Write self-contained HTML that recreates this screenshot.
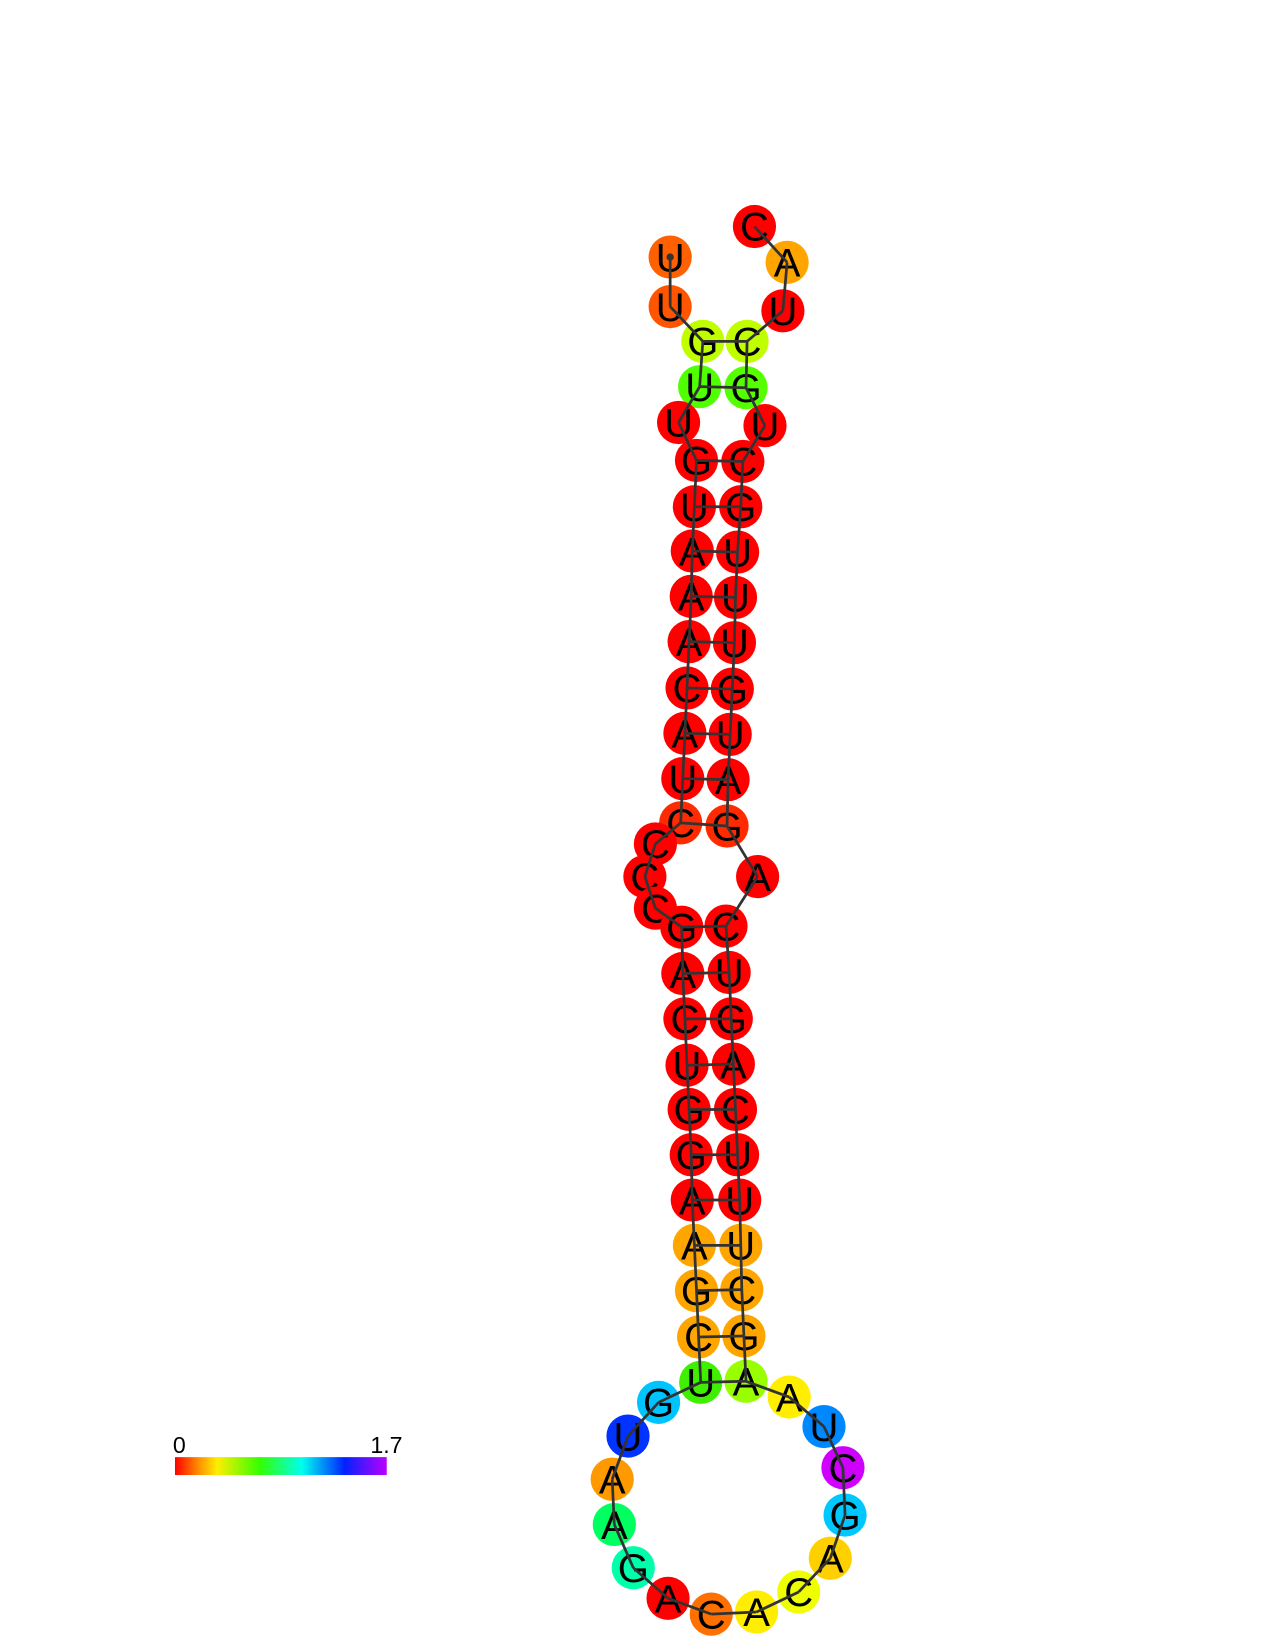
<!DOCTYPE html>
<html><head><meta charset="utf-8"><style>
html,body{margin:0;padding:0;background:#fff;}
svg{display:block;}
text{font-family:"Liberation Sans",Arial,sans-serif;}
</style></head><body>
<svg id="plot" width="1275" height="1651" viewBox="0 0 1210 1567" xmlns="http://www.w3.org/2000/svg">
<defs>
<linearGradient id="cb" x1="0" x2="1" y1="0" y2="0">
<stop offset="0" stop-color="#ff0000"/><stop offset="0.12" stop-color="#ff9900"/><stop offset="0.2" stop-color="#ffee00"/><stop offset="0.4" stop-color="#33ff00"/><stop offset="0.6" stop-color="#00ffee"/><stop offset="0.8" stop-color="#0022ff"/><stop offset="1" stop-color="#bb00ff"/>
</linearGradient>
</defs>
<g>
<rect x="166" y="1383" width="201" height="17" fill="url(#cb)"/>
<text x="164" y="1379" font-size="22">0</text>
<text x="382" y="1379" font-size="22" text-anchor="end">1.7</text>
</g>
<g id="links"></g>
<g id="nodes"></g>
</svg>
<script>
const seq = "UUGUUGUAAACAUCCCCGACUGGAAGCUGUAAGACACAGCUAAGCUUUCAGUCAGAUGUUUGCUGCUAC".split("");
const nx = [636,636,667,664,644,661,659,657,656,654,652,650,648,646,622,612,622,647,648,650,652,654,656,657,659,661,663,665,625,596,581,583,601,634,675,718,758,788,802,800,782,749,708,706,704,703,702,700,698,696,694,692,689,719,690,691,693,695,697,698,700,703,705,726,708,709,743,747,716];
const ny = [244,291,324,367,401,437,481,523,566,609,653,696,739,781,801,832,862,880,924,967,1011,1053,1096,1139,1182,1225,1269,1312,1331,1363,1404,1447,1488,1517,1532,1530,1511,1479,1438,1393,1354,1326,1311,1268,1224,1182,1139,1096,1053,1010,967,923,879,832,784,740,697,654,610,567,524,481,438,404,368,324,295,249,215];
const pairs = [[2,65],[3,64],[5,62],[6,61],[7,60],[8,59],[9,58],[10,57],[11,56],[12,55],[13,54],[17,52],[18,51],[19,50],[20,49],[21,48],[22,47],[23,46],[24,45],[25,44],[26,43],[27,42]];
const explicitColors = {0:"#ff6000",1:"#ff5500",2:"#c0ff00",3:"#50ff00",13:"#ff2a00",54:"#ff2a00",24:"#ffa500",25:"#ffa500",26:"#ffa500",43:"#ffa500",44:"#ffa500",45:"#ffa500",27:"#40ee00",28:"#00c4ff",29:"#0033ff",30:"#ff9900",31:"#00ff60",32:"#00ffaa",33:"#ff0000",34:"#ff7000",35:"#ffee00",36:"#eeff00",37:"#ffd000",38:"#00c8ff",39:"#d000ff",40:"#0088ff",41:"#ffee00",42:"#99ff00",64:"#55ff00",65:"#c0ff00",66:"#ff0000",67:"#ffa500",68:"#ff0000"};
const NS="http://www.w3.org/2000/svg";
const links=document.getElementById('links'), nodes=document.getElementById('nodes');
function line(a,b,name){
  const l=document.createElementNS(NS,'line');
  
  
  l.setAttribute('x1',nx[a]);l.setAttribute('y1',ny[a]);l.setAttribute('x2',nx[b]);l.setAttribute('y2',ny[b]);
  l.setAttribute('stroke','#333');l.setAttribute('stroke-width','2.6');
  links.appendChild(l);
}
for(let i=0;i<seq.length-1;i++) line(i,i+1,'backbone-link');
pairs.forEach(p=>line(p[0],p[1],'base-pair-link'));
seq.forEach((b,i)=>{
  const g=document.createElementNS(NS,'g');
  
  
  const c=document.createElementNS(NS,'circle');
  c.setAttribute('cx',nx[i]);c.setAttribute('cy',ny[i]);c.setAttribute('r',20.5);
  c.setAttribute('fill',explicitColors[i]||'#ff0000');
  g.appendChild(c);
  const t=document.createElementNS(NS,'text');
  t.setAttribute('x',nx[i]);t.setAttribute('y',ny[i]+13.5);
  t.setAttribute('text-anchor','middle');t.setAttribute('font-size','38');t.setAttribute('fill','#000');
  t.textContent=b;
  g.appendChild(t);
  nodes.appendChild(g);
});
nodes.parentNode.appendChild(links);
const dot=document.createElementNS(NS,'circle');


dot.setAttribute('cx',nx[0]);dot.setAttribute('cy',ny[0]);dot.setAttribute('r',3.5);dot.setAttribute('fill','#333');
links.appendChild(dot);
</script>
</body></html>
